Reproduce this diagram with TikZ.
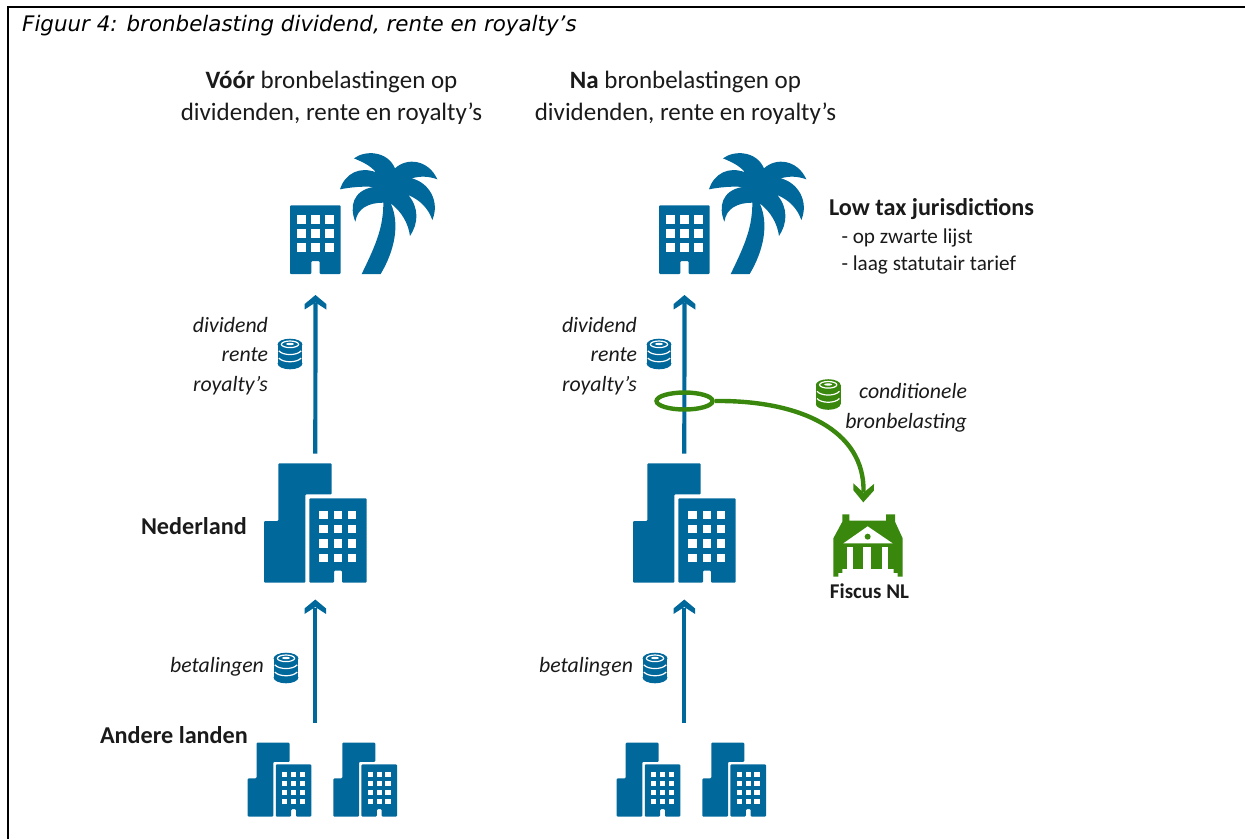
\documentclass[tikz,border=0pt]{standalone}
\usepackage{amsmath,amssymb,xcolor,fontspec}
\usetikzlibrary{arrows.meta,shapes.geometric}
\setmainfont{Carlito}
\newfontfamily\figfont{DejaVu Sans}
\definecolor{rijkblauw}{HTML}{01689B}
\definecolor{rijkgroen}{HTML}{39870C}
\definecolor{tekst}{HTML}{1A1A1A}
\pgfdeclarearrow{
  name=ChevronB,
  setup code={
    \pgfarrowssettipend{0pt}
    \pgfarrowssetlineend{-8pt}
    \pgfarrowssetvisualbackend{-14pt}
    \pgfarrowssetbackend{-14.5pt}
  },
  drawing code={
    \pgfpathmoveto{\pgfpoint{0pt}{0pt}}
    \pgfpathlineto{\pgfpoint{-9pt}{10.8pt}}
    \pgfpathlineto{\pgfpoint{-14.5pt}{10.8pt}}
    \pgfpathlineto{\pgfpoint{-7.5pt}{0pt}}
    \pgfpathlineto{\pgfpoint{-14.5pt}{-10.8pt}}
    \pgfpathlineto{\pgfpoint{-9pt}{-10.8pt}}
    \pgfpathclose
    \pgfusepathqfill
  }
}
\pgfdeclarearrow{
  name=ChevronG,
  setup code={
    \pgfarrowssettipend{0pt}
    \pgfarrowssetlineend{-10pt}
    \pgfarrowssetvisualbackend{-18pt}
    \pgfarrowssetbackend{-18.7pt}
  },
  drawing code={
    \pgfpathmoveto{\pgfpoint{0pt}{0pt}}
    \pgfpathlineto{\pgfpoint{-12pt}{10.3pt}}
    \pgfpathlineto{\pgfpoint{-18.7pt}{10.3pt}}
    \pgfpathlineto{\pgfpoint{-9.5pt}{0pt}}
    \pgfpathlineto{\pgfpoint{-18.7pt}{-10.3pt}}
    \pgfpathlineto{\pgfpoint{-12pt}{-10.3pt}}
    \pgfpathclose
    \pgfusepathqfill
  }
}
\tikzset{
  iconbox/.style={inner sep=0pt, outer sep=0pt},
  kop/.style={text=tekst, font=\fontsize{25}{32}\selectfont, align=center},
  lab/.style={text=tekst, font=\fontsize{21.8}{29.5}\selectfont\itshape, align=right, anchor=east},
  vet/.style={text=tekst, font=\fontsize{24.2}{28}\selectfont\bfseries, anchor=west},
  gewoon/.style={text=tekst, font=\fontsize{21.2}{27}\selectfont, align=left, anchor=west},
  flow/.style={rijkblauw, line width=4.2pt, -ChevronB},
  tax/.style={rijkgroen, line width=4.4pt, -ChevronG},
  office/.pic={
    \begin{scope}[scale=1/3]
    \fill[rijkblauw, rounded corners=1pt] (60,402) -- (60,196) -- (212,196) -- (212,402) -- (149,402) -- (149,363) -- (124,363) -- (124,402) -- cycle;
    \foreach \wx in {82,124,166} \foreach \wy in {226,268,310}
      \fill[white] (\wx,\wy) rectangle +(25,25);
    \end{scope}
  },
  palm/.pic={
    \begin{scope}[scale=1/3]
    \fill[rijkblauw] (275,402) .. controls (320,310) and (340,260) .. (340,188)
      .. controls (295,188) and (262,205) .. (256,245)
      .. controls (238,200) and (248,152) .. (310,141)
      .. controls (280,138) and (240,142) .. (210,148)
      .. controls (225,100) and (270,78) .. (318,97)
      .. controls (300,75) and (275,65) .. (252,55)
      .. controls (285,30) and (352,32) .. (375,85)
      .. controls (410,52) and (475,58) .. (502,118)
      .. controls (475,108) and (450,108) .. (425,115)
      .. controls (478,128) and (510,185) .. (487,240)
      .. controls (475,205) and (450,180) .. (415,165)
      .. controls (448,205) and (445,250) .. (420,288)
      .. controls (415,250) and (395,215) .. (362,190)
      .. controls (390,250) and (375,330) .. (332,402) -- cycle;
    \end{scope}
  },
  tower/.pic={
    \begin{scope}[scale=1/3]
    \fill[rijkblauw, rounded corners=1pt] (72,398) -- (72,213) -- (115,213) -- (115,40) -- (275,40) -- (275,133) -- (196,133) -- (196,398) -- cycle;
    \fill[rijkblauw, rounded corners=1pt] (208,398) -- (208,145) -- (380,145) -- (380,398) -- (306,398) -- (306,362) -- (282,362) -- (282,398) -- cycle;
    \foreach \wx in {238,281,324} \foreach \wy in {182,225,268,312}
      \fill[white] (\wx,\wy) rectangle +(25,25);
    \end{scope}
  },
  coins/.pic={
    \fill[pic actions] (0,-9.5) ellipse [x radius=12.4, y radius=5.8];
    \fill[pic actions] (0,9.5) ellipse [x radius=12.4, y radius=5.8];
    \fill[pic actions] (-12.4,-9.5) rectangle (12.4,9.5);
    \draw[white, line width=1.2pt] (0,-9.7) ellipse [x radius=8.6, y radius=3.3];
    \fill[white] (0,-10) ellipse [x radius=4, y radius=1.2];
    \draw[white, line width=1.2pt] (-11.2,-3.2) .. controls (-7,1.8) and (7,1.8) .. (11.2,-3.2);
    \draw[white, line width=1.2pt] (-11.2,4) .. controls (-7,9) and (7,9) .. (11.2,4);
  },
  bank/.pic={
    \begin{scope}[scale=1/3]
    \fill[rijkgroen] (52,28) -- (73,28) -- (73,47) -- (183,47) -- (183,28) -- (210,28) -- (210,50) -- (233,100) -- (233,215) -- (25,215) -- (25,100) -- (52,50) -- cycle;
    \fill[white] (40,216) -- (40,204) -- (52,204) -- (52,192) -- (206,192) -- (206,204) -- (218,204) -- (218,216) -- cycle;
    \fill[white] (66,125) rectangle (85,192);
    \fill[white] (115,125) rectangle (137,192);
    \fill[white] (170,125) rectangle (190,192);
    \fill[white] (55,115) -- (128,64) -- (203,115) -- cycle;
    \fill[rijkgroen] (128,95) circle [radius=9];
    \end{scope}
  }
}
\begin{document}
\begin{tikzpicture}[x=1pt,y=-1pt]
\useasboundingbox (0,0) rectangle (1245,839);
\draw[black, line width=2pt] (8,839) -- (8,7) -- (1245,7);
\node[text=black, font=\figfont\fontsize{21.4}{24}\selectfont\itshape, anchor=west, inner sep=0pt] (fig) at (22,25.5) {Figuur 4: bronbelasting dividend, rente en royalty’s};

\node[kop] (h1) at (331.5,98) {\textbf{Vóór} bronbelastingen op\\dividenden, rente en royalty’s};
\node[kop] (h2) at (685.5,98) {\textbf{Na} bronbelastingen op\\dividenden, rente en royalty’s};

\node[iconbox, minimum width=51pt, minimum height=69pt] (n1) at (315.5,239.5) {};
\node[iconbox, minimum width=51pt, minimum height=69pt] (m1) at (684.5,239.5) {};
\pic at (270,140) {office};
\pic at (270,140) {palm};
\pic at (639,140) {office};
\pic at (639,140) {palm};

\node[iconbox, minimum width=103pt, minimum height=119pt] (n2) at (315.3,523) {};
\node[iconbox, minimum width=103pt, minimum height=119pt] (m2) at (684.3,523) {};
\pic at (240,450) {tower};
\pic at (609,450) {tower};

\pic[scale=.62] at (232.8,734.4) {tower};
\pic[scale=.62] at (318.5,734.4) {tower};
\pic[scale=.62] at (601.8,734.4) {tower};
\pic[scale=.62] at (687.5,734.4) {tower};
\coordinate (n3) at (315.3,723);
\coordinate (m3) at (684.3,723);

\draw[flow, shorten <=10pt, shorten >=21pt] (n2.north) -- (n1.south);
\draw[flow, shorten <=10pt, shorten >=21pt] (m2.north) -- (m1.south);
\draw[flow, shorten >=17pt] (n3) -- (n2.south);
\draw[flow, shorten >=17pt] (m3) -- (m2.south);

\node[lab] (l1) at (271.5,356) {dividend\\rente\\royalty’s};
\node[lab] (l2) at (640.5,356) {dividend\\rente\\royalty’s};
\node[lab] (l3) at (267.5,667) {betalingen};
\node[lab] (l4) at (636.5,667) {betalingen};
\node[lab] (l5) at (970.5,408) {conditionele\\bronbelasting};

\pic[fill=rijkblauw] at (290,354) {coins};
\pic[fill=rijkblauw] at (659,354) {coins};
\pic[fill=rijkblauw] at (286,668) {coins};
\pic[fill=rijkblauw] at (655,668) {coins};
\pic[fill=rijkgroen] at (828.2,394.5) {coins};

\node[vet] (v1) at (825.5,209) {Low tax jurisdictions};
\node[gewoon] (g1) at (838,251.5) {- op zwarte lijst\\- laag statutair tarief};
\node[vet] (v2) at (137.5,526) {Nederland};
\node[vet] (v3) at (96.5,735) {Andere landen};

\node[ellipse, draw=rijkgroen, line width=4.4pt, inner sep=0pt, minimum width=56pt, minimum height=17pt] (ring) at (684.5,401) {};
\node[iconbox, minimum width=69.4pt, minimum height=62.4pt] (fiscus) at (868,545.5) {};
\pic at (825,505) {bank};
\node[text=tekst, font=\fontsize{21}{24}\selectfont\bfseries, inner sep=0pt] (f1) at (869.5,591) {Fiscus NL};
\draw[tax, shorten >=12pt] (ring.east) .. controls (800,400) and (865,430) .. ([xshift=-5pt]fiscus.north);
\end{tikzpicture}
\end{document}
